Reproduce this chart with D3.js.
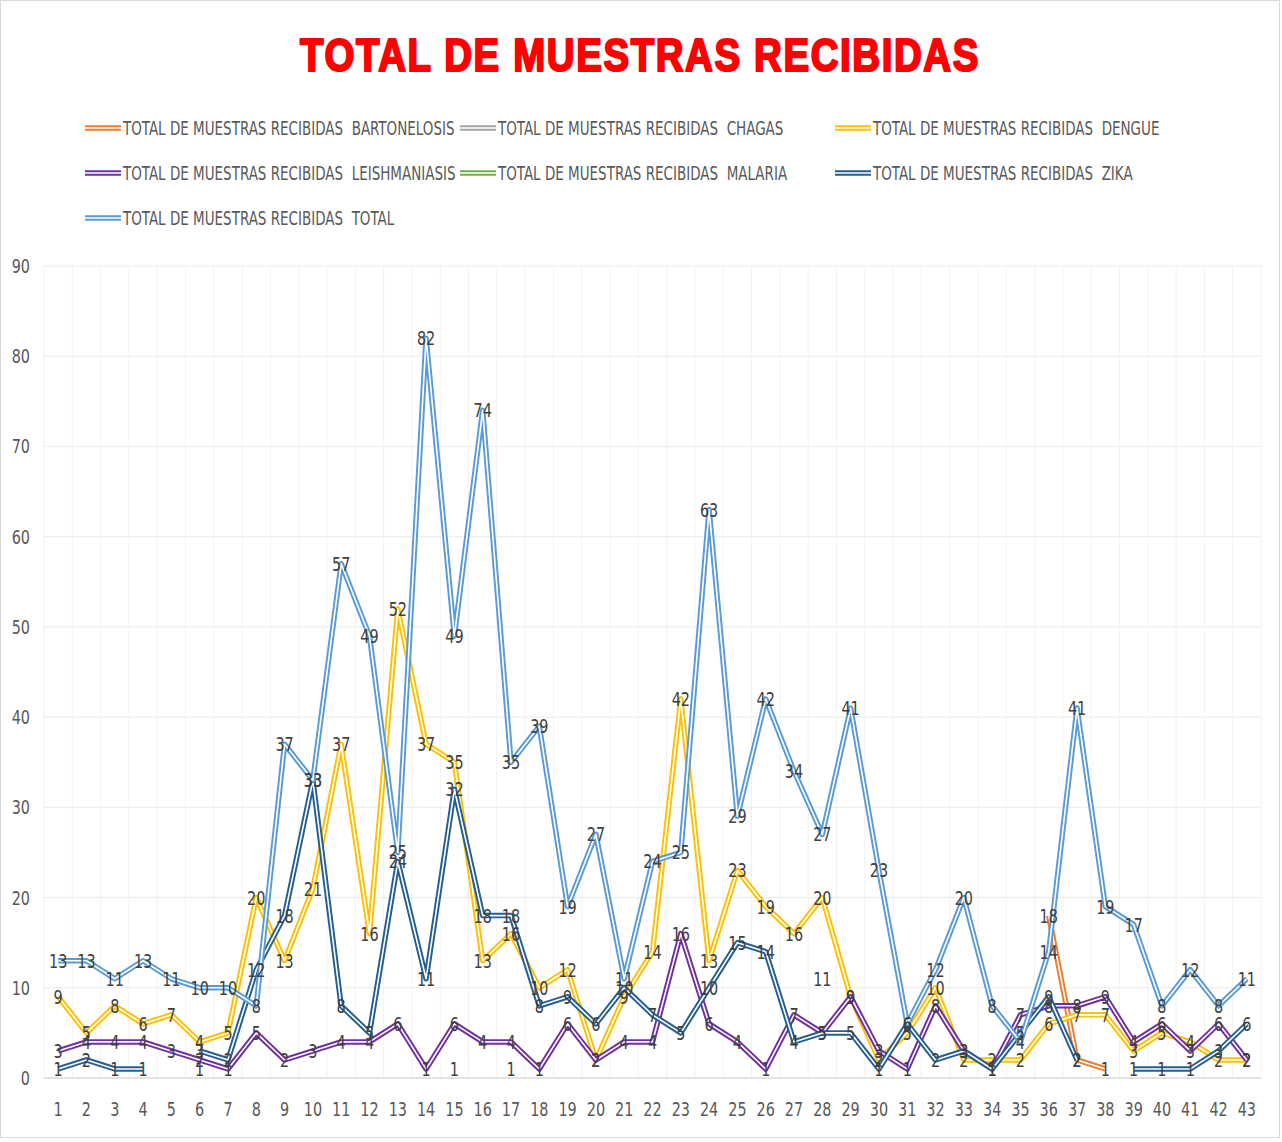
<!DOCTYPE html>
<html>
<head>
<meta charset="utf-8">
<title>Total de muestras recibidas</title>
<script src="https://cdn.jsdelivr.net/npm/d3@7"></script>
<style>
    body { margin: 0; background: #fff; }
    text { font-family: "Liberation Sans Narrow", "DejaVu Sans Condensed", "Roboto Condensed", sans-serif; }
</style>
</head>
<body>
<script>
    // categories 1..43
    var categories = [];
    for (var c = 1; c <= 43; c++) categories.push(c);

    var bartonelosis = [null,null,null,null,null,null,null,null,null,null,
        null,null,null,null,null,null,null,null,null,null,
        null,null,null,null,null,null,null,null,null,null,
        null,null,null,null,null,18,2,1,null,null,null,null,null];
    var chagas = [null,null,null,null,null,null,null,null,null,null,
        null,null,null,null,null,null,null,null,null,null,
        null,null,null,null,null,null,null,11,null,null,
        null,null,null,null,null,null,null,null,null,null,null,null,null];
    var dengue = [9,5,8,6,7,4,5,20,13,21,37,16,52,37,35,13,16,10,12,2,
        9,14,42,13,23,19,16,20,9,2,5,10,2,2,2,6,7,7,3,5,4,2,2];
    var leishmaniasis = [3,4,4,4,3,2,1,5,2,3,4,4,6,1,6,4,4,1,6,2,
        4,4,16,6,4,1,7,5,9,3,1,8,3,1,7,8,8,9,4,6,3,6,2];
    var malaria = [null,null,null,null,null,1,null,null,null,null,
        null,null,null,null,1,null,1,null,null,null,
        null,null,null,null,null,null,null,null,null,null,
        null,null,null,null,null,null,null,null,null,null,null,null,null];
    var zika = [1,2,1,1,null,3,2,12,18,33,8,5,24,11,32,18,18,8,9,6,
        10,7,5,10,15,14,4,5,5,1,6,2,3,1,5,9,2,null,1,1,1,3,6];
    var total = [13,13,11,13,11,10,10,8,37,33,57,49,25,82,49,74,35,39,19,27,
        11,24,25,63,29,42,34,27,41,23,6,12,20,8,4,14,41,19,17,8,12,8,11];

    var yTicks = [0,10,20,30,40,50,60,70,80,90];
    var prefix = "TOTAL DE MUESTRAS RECIBIDAS  ";

    var series = [
        {name: "BARTONELOSIS", values: bartonelosis, color: "#ED7D31"},
        {name: "CHAGAS", values: chagas, color: "#A5A5A5"},
        {name: "DENGUE", values: dengue, color: "#FFC000"},
        {name: "LEISHMANIASIS", values: leishmaniasis, color: "#7030A0"},
        {name: "MALARIA", values: malaria, color: "#70AD47"},
        {name: "ZIKA", values: zika, color: "#255E91"},
        {name: "TOTAL", values: total, color: "#5B9BD5"}
    ];

    var w = 1282, h = 1142;
    var plotLeft = 44, plotRight = 1261, plotTop = 266, plotBottom = 1078;
    var squeeze = 0.8;  // narrow look of the original font

    var svg = d3.select("body").append("svg")
            .attr("width", w)
            .attr("height", h);

    svg.append("rect")
            .attr("x", 0.5).attr("y", 0.5)
            .attr("width", w - 3).attr("height", h - 5)
            .attr("fill", "#fff")
            .attr("stroke", "#D9D9D9");

    // title
    svg.append("text")
            .attr("x", 640).attr("y", 71)
            .attr("text-anchor", "middle")
            .attr("textLength", 680)
            .attr("lengthAdjust", "spacingAndGlyphs")
            .style("font-family", "'Liberation Sans', Arial, sans-serif")
            .style("font-weight", "bold")
            .style("font-size", "47px")
            .style("letter-spacing", "2px")
            .attr("fill", "#FF0000")
            .attr("stroke", "#FF0000")
            .attr("stroke-width", 2.2)
            .attr("stroke-linejoin", "round")
            .text("TOTAL DE MUESTRAS RECIBIDAS");

    var x = d3.scaleBand().domain(categories).range([plotLeft, plotRight]);
    var y = d3.scaleLinear().domain([0, 90]).range([plotBottom, plotTop]);
    var cx = function(i) { return x(categories[i]) + x.bandwidth() / 2; };

    // grid
    svg.append("g").selectAll("line")
            .data(d3.range(categories.length + 1))
            .enter().append("line")
            .attr("x1", function(i) { return plotLeft + i * x.bandwidth(); })
            .attr("x2", function(i) { return plotLeft + i * x.bandwidth(); })
            .attr("y1", plotTop).attr("y2", plotBottom)
            .attr("stroke", "#F2F2F2");

    svg.append("g").selectAll("line")
            .data(yTicks.slice(1))
            .enter().append("line")
            .attr("x1", plotLeft).attr("x2", plotRight)
            .attr("y1", function(d) { return y(d); })
            .attr("y2", function(d) { return y(d); })
            .attr("stroke", "#EBEBEB");

    svg.append("line")
            .attr("x1", plotLeft).attr("x2", plotRight)
            .attr("y1", plotBottom).attr("y2", plotBottom)
            .attr("stroke", "#D9D9D9").attr("stroke-width", 1.5);

    // helper: squeezed text at a point
    function narrowText(sel, anchor) {
        sel.attr("transform", function(d) { return "translate(" + d.px + "," + d.py + ") scale(" + squeeze + ",1)"; })
                .attr("text-anchor", anchor)
                .style("font-size", "20px");
    }

    // axis labels
    svg.append("g").selectAll("text")
            .data(yTicks.map(function(t) { return {t: t, px: 30, py: y(t) + 7}; }))
            .enter().append("text")
            .call(narrowText, "end")
            .attr("fill", "#595959")
            .text(function(d) { return d.t; });

    svg.append("g").selectAll("text")
            .data(categories.map(function(cat, i) { return {t: cat, px: cx(i), py: 1116}; }))
            .enter().append("text")
            .call(narrowText, "middle")
            .attr("fill", "#595959")
            .text(function(d) { return d.t; });

    // lines (double compound stroke)
    var line = d3.line()
            .defined(function(d) { return d !== null; })
            .x(function(d, i) { return cx(i); })
            .y(function(d) { return y(d); });

    series.forEach(function(s) {
        svg.append("path")
                .datum(s.values)
                .attr("d", line)
                .attr("fill", "none")
                .attr("stroke", s.color)
                .attr("stroke-width", 5.5)
                .attr("stroke-linejoin", "round");
        svg.append("path")
                .datum(s.values)
                .attr("d", line)
                .attr("fill", "none")
                .attr("stroke", "#fff")
                .attr("stroke-width", 1.6)
                .attr("stroke-linejoin", "round");
    });

    // data labels
    series.forEach(function(s) {
        svg.append("g").selectAll("text")
                .data(s.values.map(function(v, i) { return {v: v, px: cx(i), py: y(v) + 7}; })
                        .filter(function(d) { return d.v !== null; }))
                .enter().append("text")
                .call(narrowText, "middle")
                .attr("fill", "#404040")
                .text(function(d) { return d.v; });
    });

    // legend
    var legend = svg.append("g").selectAll("g")
            .data(series)
            .enter().append("g")
            .attr("transform", function(d, i) {
                return "translate(" + (85 + (i % 3) * 375) + "," + (128 + Math.floor(i / 3) * 45) + ")";
            });
    legend.append("line")
            .attr("x1", 0).attr("x2", 36)
            .attr("stroke", function(d) { return d.color; })
            .attr("stroke-width", 5.5);
    legend.append("line")
            .attr("x1", 0).attr("x2", 36)
            .attr("stroke", "#fff")
            .attr("stroke-width", 1.6);
    legend.append("text")
            .attr("transform", "translate(38,7) scale(0.75,1)")
            .style("font-size", "20px")
            .style("white-space", "pre")
            .attr("fill", "#595959")
            .text(function(d) { return prefix + d.name; });
</script>
</body>
</html>
